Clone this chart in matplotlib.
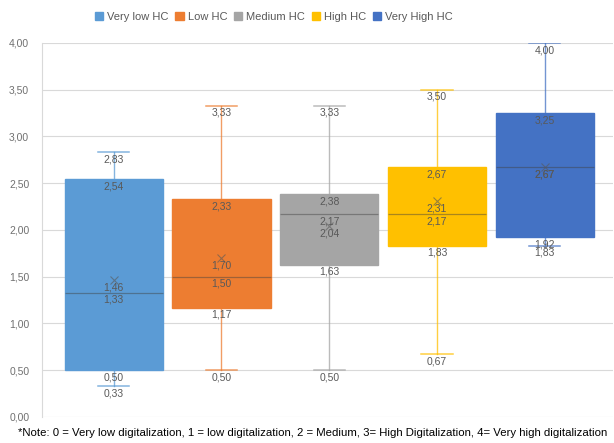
import matplotlib.pyplot as plt
from matplotlib.patches import Patch

# Estadisticos de cada grupo (min, Q1, mediana, media, Q3, max)
grupos = ['Very low HC', 'Low HC', 'Medium HC', 'High HC', 'Very High HC']
minimos = [0.33, 0.50, 0.50, 0.67, 1.83]
q1 = [0.50, 1.17, 1.63, 1.83, 1.92]
medianas = [1.33, 1.50, 2.17, 2.17, 2.67]
medias = [1.46, 1.70, 2.04, 2.31, 2.67]
q3 = [2.54, 2.33, 2.38, 2.67, 3.25]
maximos = [2.83, 3.33, 3.33, 3.50, 4.00]
colores = ['#5B9BD5', '#ED7D31', '#A5A5A5', '#FFC000', '#4472C4']

nota = ('*Note: 0 = Very low digitalization, 1 = low digitalization, 2 = Medium, '
        '3= High Digitalization, 4= Very high digitalization')

plt.rcParams['font.family'] = ['Liberation Sans', 'DejaVu Sans']

fig = plt.figure(figsize=(6.14, 4.43), dpi=100)
ax = fig.add_axes([0.068, 0.0587, 0.93, 0.8443])

stats = []
for i in range(len(grupos)):
    stats.append({'whislo': minimos[i], 'q1': q1[i], 'med': medianas[i],
                  'mean': medias[i], 'q3': q3[i], 'whishi': maximos[i],
                  'fliers': []})

gris_texto = '#595959'
for i, st in enumerate(stats):
    c = colores[i]
    ax.bxp([st], positions=[i], widths=0.91, patch_artist=True,
           showmeans=True, showfliers=False,
           boxprops=dict(facecolor=c, edgecolor=c, linewidth=1),
           whiskerprops=dict(color=c, linewidth=1, alpha=0.75),
           capprops=dict(color=c, linewidth=1.1, alpha=0.75),
           capwidths=0.29,
           medianprops=dict(color='#404040', linewidth=0.9, alpha=0.45),
           meanprops=dict(marker='x', markeredgecolor='#595959', markersize=6,
                          markeredgewidth=0.8, alpha=0.6),
           zorder=3)
    # etiquetas de valores
    for v in [minimos[i], q1[i], medianas[i], medias[i], q3[i], maximos[i]]:
        ax.annotate(f'{v:.2f}'.replace('.', ','), (i, v), xytext=(0, -1.5),
                    textcoords='offset points', ha='center', va='top',
                    fontsize=7.5, color=gris_texto, zorder=4)

ax.set_xlim(-0.667, 4.63)
ax.set_ylim(0, 4)
ax.set_yticks([k * 0.5 for k in range(9)])
ax.set_yticklabels([f'{k * 0.5:.2f}'.replace('.', ',') for k in range(9)])
ax.tick_params(axis='y', length=0, labelsize=7.5, labelcolor='#707070', pad=9)
ax.set_xticks([])
ax.grid(axis='y', color='#D9D9D9', linewidth=0.8, zorder=0)
ax.set_axisbelow(True)
for lado in ['top', 'right', 'bottom']:
    ax.spines[lado].set_visible(False)
ax.spines['left'].set_color('#D9D9D9')
ax.spines['left'].set_linewidth(0.8)

manijas = [Patch(facecolor=c, edgecolor=c) for c in colores]
fig.legend(manijas, grupos, loc='center', bbox_to_anchor=(0.446, 0.961),
           ncol=5, frameon=False, fontsize=8, labelcolor=gris_texto,
           handlelength=0.75, handleheight=0.75, handletextpad=0.35,
           columnspacing=0.6)

fig.text(0.029, 0.022, nota, fontsize=8.2, color='black', va='center')

fig.savefig('out.png', dpi=100)
